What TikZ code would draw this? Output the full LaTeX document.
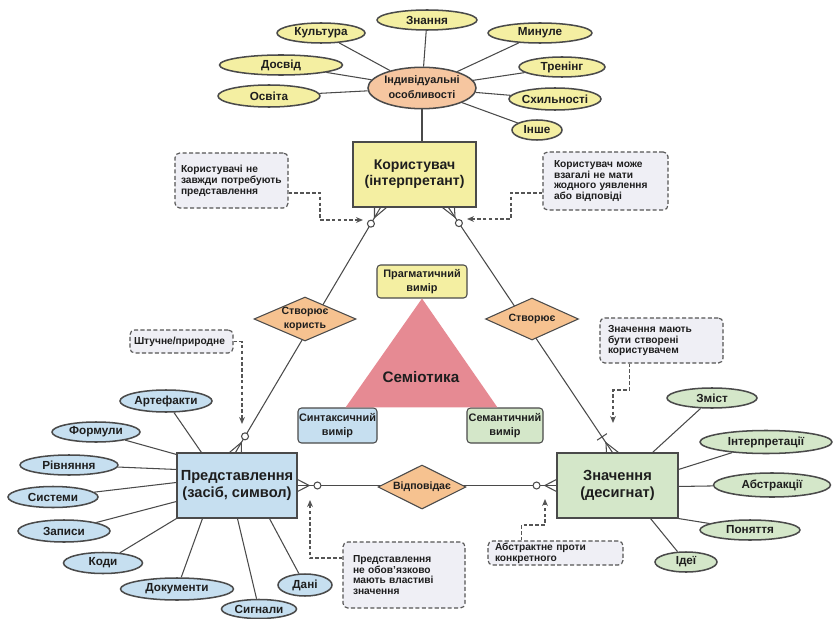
\documentclass[tikz,border=0pt]{standalone}
\usepackage{fontspec}
\setmainfont{Liberation Sans}
\usetikzlibrary{shapes.geometric,arrows.meta,calc}
\newlength\pxu
\setlength\pxu{0.03cm}
\newcommand\zb[1]{\makebox[0pt]{#1}}
\newcommand\zt[1]{\makebox[0pt]{\begin{tabular}{@{}c@{}}#1\end{tabular}}}
\definecolor{edge}{HTML}{4A4A4A}
\definecolor{ylw}{HTML}{F4EFA2}
\definecolor{peach}{HTML}{F6C6A0}
\definecolor{orng}{HTML}{F6C290}
\definecolor{blu}{HTML}{C6DFF0}
\definecolor{grn}{HTML}{D4E7C9}
\definecolor{tri}{HTML}{E68A93}
\definecolor{notef}{HTML}{EFEFF5}
\definecolor{dashc}{HTML}{555555}
\definecolor{txt}{HTML}{1E1E1E}
\tikzset{
  ell/.style={ellipse, draw=edge, line width=1.3pt, inner sep=0pt, text=txt,
    font=\fontsize{10}{11}\selectfont\bfseries},
  mainbox/.style={rectangle, draw=edge, line width=0.9pt, inner sep=0pt, text=txt},
  dimbox/.style={rectangle, rounded corners=3pt, draw=edge, line width=0.9pt, inner sep=0pt, text=txt,
    font=\fontsize{9.3}{12}\selectfont\bfseries},
  rel/.style={diamond, draw=edge, fill=orng, line width=0.9pt, inner sep=0pt, text=txt,
    font=\fontsize{9}{11.5}\selectfont\bfseries},
  note/.style={rectangle, rounded corners=4pt, draw=dashc, dash pattern=on 3.5pt off 2pt,
    line width=1pt, fill=notef, inner sep=0pt, align=left, text=txt,
    font=\fontsize{8.7}{9.3}\selectfont\bfseries},
  link/.style={draw=edge, line width=0.9pt},
  na/.style={draw=dashc, dash pattern=on 3pt off 2pt, line width=1.1pt,
    -{Stealth[length=6pt,width=5pt]}},
}
\begin{document}
\begin{tikzpicture}[x=0.03cm,y=-0.03cm]
\useasboundingbox (0,0) rectangle (834,619);

% ---------- top cluster ----------
\node[ell, fill=peach, minimum width=108\pxu, minimum height=36\pxu,
  font=\fontsize{9.3}{12.5}\selectfont\bfseries] (ind) at (422,88) {\zt{Індивідуальні\\особливості}};
\node[ell, fill=ylw, minimum width=100\pxu, minimum height=20\pxu] (zn) at (427,20) {\zb{Знання}};
\node[ell, fill=ylw, minimum width=88\pxu, minimum height=20\pxu] (ku) at (321,33) {\zb{Культура}};
\node[ell, fill=ylw, minimum width=104\pxu, minimum height=20\pxu] (mi) at (540,33) {\zb{Минуле}};
\node[ell, fill=ylw, minimum width=123\pxu, minimum height=20\pxu] (do) at (281,65) {\zb{Досвід}};
\node[ell, fill=ylw, minimum width=86\pxu, minimum height=20\pxu] (tr) at (562,67) {\zb{Тренінг}};
\node[ell, fill=ylw, minimum width=102\pxu, minimum height=22\pxu] (os) at (269,96) {\zb{Освіта}};
\node[ell, fill=ylw, minimum width=92\pxu, minimum height=22\pxu] (sk) at (555,99) {\zb{Схильності}};
\node[ell, fill=ylw, minimum width=50\pxu, minimum height=20\pxu] (in) at (537,130) {\zb{Інше}};
\foreach \n in {zn,ku,mi,do,tr,os,sk,in} \draw[link] (ind) -- (\n);

% ---------- main boxes ----------
\node[mainbox, fill=ylw, minimum width=123\pxu, minimum height=65\pxu,
  font=\fontsize{12}{13}\selectfont\bfseries] (user) at (414.5,174.5) {\zt{Користувач\\(інтерпретант)}};
\node[mainbox, fill=blu, minimum width=120\pxu, minimum height=65\pxu,
  font=\fontsize{12.5}{15}\selectfont\bfseries] (pred) at (237,485.5) {\zt{Представлення\\(засіб, символ)}};
\node[mainbox, fill=grn, minimum width=121\pxu, minimum height=65\pxu,
  font=\fontsize{12.5}{15}\selectfont\bfseries] (znach) at (617.5,485.5) {\zt{Значення\\(десигнат)}};
\draw[link] (ind.south) -- (ind.south |- user.north);

% ---------- left ellipses ----------
\node[ell, fill=blu, minimum width=92\pxu, minimum height=22\pxu] (ar) at (166,401) {\zb{Артефакти}};
\node[ell, fill=blu, minimum width=88\pxu, minimum height=20\pxu] (fo) at (96,432) {\zb{Формули}};
\node[ell, fill=blu, minimum width=98\pxu, minimum height=20\pxu] (ri) at (69,465) {\zb{Рівняння}};
\node[ell, fill=blu, minimum width=90\pxu, minimum height=21\pxu] (sy) at (53,497) {\zb{Системи}};
\node[ell, fill=blu, minimum width=92\pxu, minimum height=22\pxu] (za) at (64,531) {\zb{Записи}};
\node[ell, fill=blu, minimum width=79\pxu, minimum height=21\pxu] (ko) at (103,563) {\zb{Коди}};
\node[ell, fill=blu, minimum width=113\pxu, minimum height=22\pxu] (dk) at (177,589) {\zb{Документи}};
\node[ell, fill=blu, minimum width=75\pxu, minimum height=19\pxu] (si) at (259,609) {\zb{Сигнали}};
\node[ell, fill=blu, minimum width=54\pxu, minimum height=22\pxu] (da) at (305,585) {\zb{Дані}};
\draw[link] (ar) -- ($(pred.north west)+(25,0)$);
\draw[link] (fo) -- ($(pred.north west)+(0,2)$);
\draw[link] (ri) -- ($(pred.north west)+(0,17)$);
\draw[link] (sy) -- ($(pred.north west)+(0,30)$);
\draw[link] (za) -- ($(pred.north west)+(0,49)$);
\draw[link] (ko) -- (pred.south west);
\draw[link] (dk) -- ($(pred.south west)+(26,0)$);
\draw[link] (si) -- ($(pred.south west)+(61,0)$);
\draw[link] (da) -- ($(pred.south west)+(93,0)$);

% ---------- right ellipses ----------
\node[ell, fill=grn, minimum width=90\pxu, minimum height=20\pxu] (zm) at (712,398) {\zb{Зміст}};
\node[ell, fill=grn, minimum width=132\pxu, minimum height=23\pxu] (it) at (766,442) {\zb{Інтерпретації}};
\node[ell, fill=grn, minimum width=117\pxu, minimum height=24\pxu] (ab) at (772,485) {\zb{Абстракції}};
\node[ell, fill=grn, minimum width=100\pxu, minimum height=20\pxu] (po) at (750,530) {\zb{Поняття}};
\node[ell, fill=grn, minimum width=62\pxu, minimum height=20\pxu] (id) at (686,562) {\zb{Ідеї}};
\draw[link] (zm) -- ($(znach.north east)+(-26,0)$);
\draw[link] (it) -- ($(znach.north east)+(0,17)$);
\draw[link] (ab) -- ($(znach.north east)+(0,34)$);
\draw[link] (po) -- (znach.south east);
\draw[link] (id) -- ($(znach.south east)+(-28,0)$);

% ---------- semiotic triangle ----------
\node[dimbox, fill=ylw, minimum width=90\pxu, minimum height=33\pxu] (prag) at (422,281.5) {\zt{Прагматичний\\вимір}};
\node[dimbox, fill=blu, minimum width=79\pxu, minimum height=35\pxu] (synt) at (337.5,425.5) {\zt{Синтаксичний\\вимір}};
\node[dimbox, fill=grn, minimum width=76\pxu, minimum height=35\pxu] (sem) at (505,425.5) {\zt{Семантичний\\вимір}};
\path[fill=tri] (prag.south) -- ($(synt.north east)+(-32,0)$) -- ($(sem.north west)+(31,0)$) -- cycle;
\node[text=txt, font=\fontsize{13}{15}\selectfont\bfseries] (semi) at (421,377) {Семіотика};

% ---------- relationship lines ----------
\coordinate (uL) at ($(user.south west)+(28,0)$);
\coordinate (uR) at ($(user.south west)+(96,0)$);
\coordinate (pT) at ($(pred.north west)+(59,0)$);
\coordinate (zT) at ($(znach.north west)+(56,0)$);
\draw[link] (uL) -- (pT);
\draw[link] (uR) -- (zT);
\draw[link] (pred.east) -- (znach.west);

% crow's feet
\draw[link] ($(uL)+(-6,0)$) -- ($(uL)!10pt!(pT)$) -- ($(uL)+(6,0)$);
\draw[link] ($(uR)+(-6,0)$) -- ($(uR)!10pt!(zT)$) -- ($(uR)+(6,0)$);
\draw[link] ($(pT)+(-6,0)$) -- ($(pT)!10pt!(uL)$) -- ($(pT)+(6,0)$);
\draw[link] ($(zT)+(-6,0)$) -- ($(zT)!10pt!(uR)$) -- ($(zT)+(6,0)$);
\draw[link] ($(pred.east)+(0,-6)$) -- ($(pred.east)!10pt!(znach.west)$) -- ($(pred.east)+(0,6)$);
\draw[link] ($(znach.west)+(0,-6)$) -- ($(znach.west)!10pt!(pred.east)$) -- ($(znach.west)+(0,6)$);
\coordinate (zTk) at ($(zT)!16pt!(uR)$);
\draw[link] ($(zTk)!5pt!90:(uR)$) -- ($(zTk)!5pt!-90:(uR)$);
\draw[link, fill=white] ($(uL)!16pt!(pT)$) circle (3.5);
\draw[link, fill=white] ($(uR)!16pt!(zT)$) circle (3.5);
\draw[link, fill=white] ($(pT)!16pt!(uL)$) circle (3.5);
\draw[link, fill=white] ($(pred.east)!17pt!(znach.west)$) circle (3.5);
\draw[link, fill=white] ($(znach.west)!17pt!(pred.east)$) circle (3.5);

% diamonds
\node[rel, minimum width=102\pxu, minimum height=44\pxu] (d1) at (305,319) {\zt{Створює\\користь}};
\node[rel, minimum width=93\pxu, minimum height=42\pxu] (d2) at (532,319) {\zb{Створює}};
\node[rel, minimum width=88\pxu, minimum height=44\pxu] (d3) at (422,487) {\zb{Відповідає}};

% ---------- notes ----------
\node[note, minimum width=113\pxu, minimum height=55\pxu, text width=101\pxu] (n1) at (231.5,180.5)
  {Користувачі не\\завжди потребують\\представлення};
\node[note, minimum width=125\pxu, minimum height=58\pxu, text width=103\pxu] (n2) at (605.5,181)
  {Користувач може\\взагалі не мати\\жодного уявлення\\або відповіді};
\node[note, minimum width=103\pxu, minimum height=23\pxu, text width=95\pxu] (n3) at (181.5,341.5)
  {Штучне/природне};
\node[note, minimum width=123\pxu, minimum height=45\pxu, text width=107\pxu] (n4) at (661.5,340.5)
  {Значення мають\\бути створені\\користувачем};
\node[note, minimum width=122\pxu, minimum height=66\pxu, text width=102\pxu] (n5) at (404,575)
  {Представлення\\не обов'язково\\мають властиві\\значення};
\node[note, minimum width=135\pxu, minimum height=24\pxu, text width=121\pxu] (n6) at (555.5,553)
  {Абстрактне проти\\конкретного};

\coordinate (c1) at (363,220);
\coordinate (c2) at (467,219);
\coordinate (c3) at (242,424);
\coordinate (c4) at (613,423);
\coordinate (c5) at (310,500);
\coordinate (c6) at (545,499);
\draw[na] ($(n1.east)+(0,12.5)$) -| ($(c1)+(-43,0)$) -- (c1);
\draw[na] ($(n2.west)+(0,12)$) -| ($(c2)+(44,0)$) -- (c2);
\draw[na] (n3.east) -| (c3);
\draw[na] ($(n4.south west)+(30,0)$) |- ($(c4)+(0,-33)$) -- (c4);
\draw[na] ($(n5.west)+(0,-17)$) -| (c5);
\draw[na] ($(n6.north west)+(34,0)$) |- ($(c6)+(0,26)$) -- (c6);
\end{tikzpicture}
\end{document}
